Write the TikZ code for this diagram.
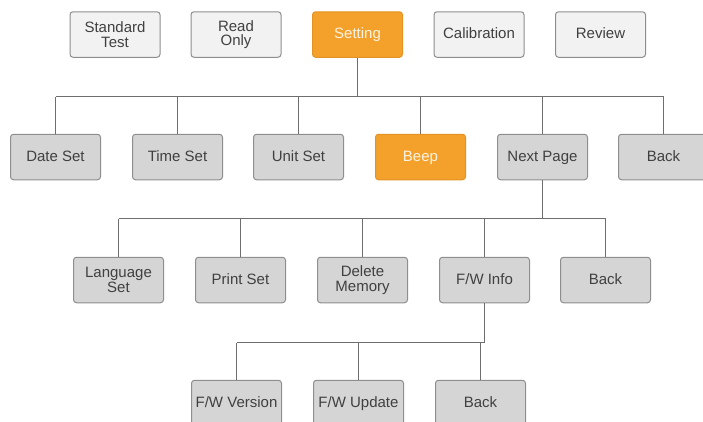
\documentclass[tikz,border=0pt]{standalone}
\usepackage{fontspec}
\setmainfont{Liberation Sans}
\definecolor{lightfill}{HTML}{F2F2F2}
\definecolor{grayfill}{HTML}{D5D5D5}
\definecolor{boxline}{HTML}{8E8E8E}
\definecolor{orangefill}{HTML}{F4A12C}
\definecolor{orangeline}{HTML}{E39322}
\definecolor{txtgray}{HTML}{404040}
\definecolor{hottxt}{HTML}{FFF4E2}
\definecolor{connline}{HTML}{6E6E6E}
\tikzset{
  boxcore/.style={rectangle, rounded corners=3pt, draw=boxline, line width=1pt,
    minimum width=90pt, minimum height=45.5pt, inner sep=0pt, align=center,
    text=txtgray, font=\fontsize{15}{14.5}\selectfont},
  oneline/.style={boxcore, text height=11pt, text depth=3pt},
  topbox/.style={oneline, fill=lightfill},
  topboxtwo/.style={boxcore, fill=lightfill},
  menubox/.style={oneline, fill=grayfill},
  menuboxtwo/.style={boxcore, fill=grayfill},
  hotbox/.style={oneline, fill=orangefill, draw=orangeline, text=hottxt},
  conn/.style={draw=connline, line width=1.3pt}
}
\begin{document}
\begin{tikzpicture}[x=1pt, y=-1pt]
\useasboundingbox (0,0) rectangle (703,421);
\clip (0,0) rectangle (703,421);
% top row
\node[topboxtwo] (std) at (115,34.5) {Standard\\Test};
\node[topboxtwo] (read) at (236,34.5) {Read\\Only};
\node[hotbox] (setting) at (357.5,34.5) {Setting};
\node[topbox] (calib) at (479,34.5) {Calibration};
\node[topbox] (review) at (600.5,34.5) {Review};
% row 2
\node[menubox] (date) at (55.5,157) {Date Set};
\node[menubox] (time) at (177.5,157) {Time Set};
\node[menubox] (unit) at (298.5,157) {Unit Set};
\node[hotbox] (beep) at (420.5,157) {Beep};
\node[menubox] (next) at (542.5,157) {Next Page};
\node[menubox] (backa) at (663.5,157) {Back};
% row 3
\node[menuboxtwo] (lang) at (118.5,280) {Language\\Set};
\node[menubox] (print) at (240.5,280) {Print Set};
\node[menuboxtwo] (delete) at (362.5,280) {Delete\\Memory};
\node[menubox] (fwinfo) at (484.5,280) {F/W Info};
\node[menubox] (backb) at (605.5,280) {Back};
% row 4
\node[menubox] (fwver) at (236.5,403) {F/W Version};
\node[menubox] (fwupd) at (358.5,403) {F/W Update};
\node[menubox] (backc) at (480.5,403) {Back};
% buses
\coordinate (busa) at (0,96.5);
\coordinate (busb) at (0,218.5);
\coordinate (busc) at (0,342.5);
% level 1
\draw[conn] (setting.south) -- (setting.south |- busa);
\draw[conn] (date.north |- busa) -- (backa.north |- busa);
\foreach \n in {date,time,unit,beep,next,backa}
  \draw[conn] (\n.north) -- (\n.north |- busa);
% level 2
\draw[conn] (next.south) -- (next.south |- busb);
\draw[conn] (lang.north |- busb) -- (backb.north |- busb);
\foreach \n in {lang,print,delete,fwinfo,backb}
  \draw[conn] (\n.north) -- (\n.north |- busb);
% level 3
\draw[conn] (fwinfo.south) -- (fwinfo.south |- busc);
\draw[conn] (fwver.north |- busc) -- (fwinfo.south |- busc);
\foreach \n in {fwver,fwupd,backc}
  \draw[conn] (\n.north) -- (\n.north |- busc);
\end{tikzpicture}
\end{document}
